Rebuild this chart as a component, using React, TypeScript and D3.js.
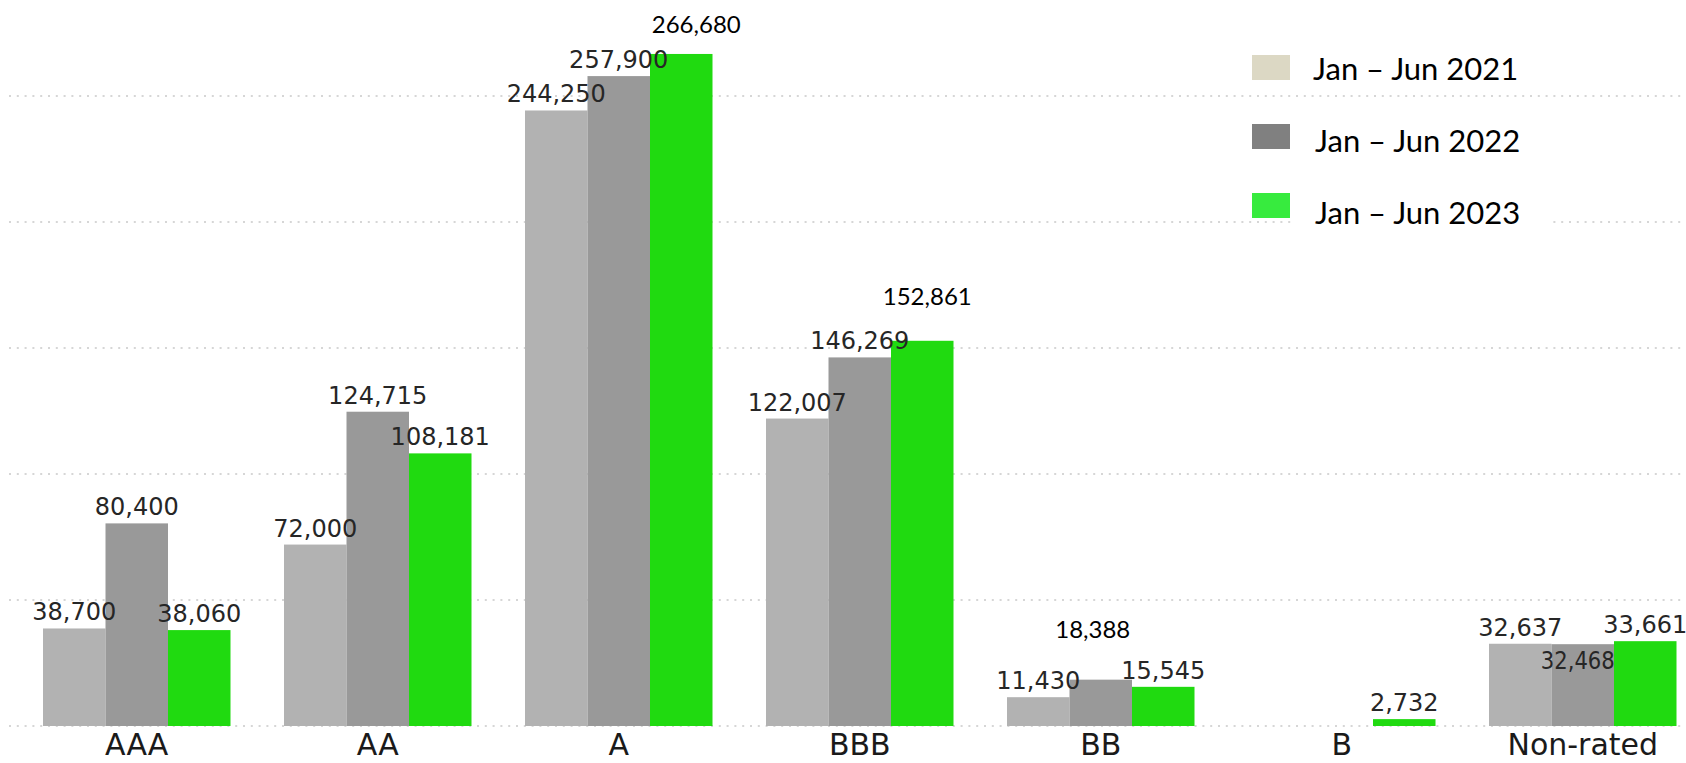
import React from "react";
import * as d3 from "d3";

const categories = ["AAA", "AA", "A", "BBB", "BB", "B", "Non-rated"];
const seriesNames = ["Jan – Jun 2021", "Jan – Jun 2022", "Jan – Jun 2023"];
const values2021: (number | null)[] = [38700, 72000, 244250, 122007, 11430, null, 32637];
const values2022: (number | null)[] = [80400, 124715, 257900, 146269, 18388, null, 32468];
const values2023: (number | null)[] = [38060, 108181, 266680, 152861, 15545, 2732, 33661];
const gridTicks = [0, 50000, 100000, 150000, 200000, 250000];

const W = 1686;
const H = 763;
const barColors = ["#b2b2b2", "#999999", "#20da10"];
const legendColors = ["#dcd8c4", "#808080", "#37eb3e"];

// label placement tweaks (style, not data)
const labelTweaks: Record<string, { dx: number; dy: number; kind: string }> = {
  "A|2": { dx: 15, dy: -21, kind: "black" },
  "BBB|2": { dx: 5, dy: -36, kind: "black" },
  "BB|1": { dx: -8, dy: -42, kind: "black" },
  "Non-rated|1": { dx: -5, dy: 25, kind: "inside" },
};

export default function App() {
  const series = [values2021, values2022, values2023];
  const x0 = d3.scaleBand<string>().domain(categories).range([43, 1676.5]).paddingInner(0.222).paddingOuter(0);
  const x1 = d3.scaleBand<number>().domain([0, 1, 2]).range([0, x0.bandwidth()]).padding(0);
  const y = d3.scaleLinear().domain([0, 250000]).range([726, 96]);
  const fmt = d3.format(",");

  return (
    <svg width={W} height={H} style={{ position: "absolute", left: 0, top: 0, background: "#fff" }}>
      <rect x={0} y={0} width={W} height={H} fill="#fff" />
      {gridTicks.map((t) => (
        <line key={t} x1={9} x2={W} y1={y(t)} y2={y(t)} stroke="#d6d6d6" strokeWidth={2} strokeDasharray="2 5.8" />
      ))}
      {/* legend backgrounds hiding gridlines */}
      {seriesNames.map((_, i) => (
        <rect key={"lb" + i} x={1291} y={48 + i * 71} width={i === 2 ? 260 : 282} height={42} fill="#fff" />
      ))}
      {categories.map((c, ci) => (
        <g key={c} transform={`translate(${x0(c)},0)`}>
          {series.map((s, si) => {
            const v = s[ci];
            if (v == null) return null;
            return (
              <rect key={si} x={x1(si)} y={y(v)} width={x1.bandwidth()} height={y(0) - y(v)} fill={barColors[si]} />
            );
          })}
        </g>
      ))}
      {categories.map((c, ci) =>
        series.map((s, si) => {
          const v = s[ci];
          if (v == null) return null;
          const tw = labelTweaks[c + "|" + si];
          const cx = (x0(c) as number) + (x1(si) as number) + x1.bandwidth() / 2 + (tw ? tw.dx : 0);
          const cy = y(v) + (tw ? tw.dy : -8);
          const kind = tw ? tw.kind : "grey";
          if (kind === "black") {
            return (
              <text key={c + si} x={cx} y={cy} textAnchor="middle" fontFamily="Lato" fontSize={24} fill="#000">
                {fmt(v)}
              </text>
            );
          }
          if (kind === "inside") {
            return (
              <text key={c + si} x={cx} y={cy} textAnchor="middle" fontFamily="DejaVu Sans" fontSize={24} fill="#262626" textLength={74} lengthAdjust="spacingAndGlyphs">
                {fmt(v)}
              </text>
            );
          }
          return (
            <text key={c + si} x={cx} y={cy} textAnchor="middle" fontFamily="DejaVu Sans" fontSize={24} fill="#262626">
              {fmt(v)}
            </text>
          );
        })
      )}
      {categories.map((c) => (
        <text key={"cat" + c} x={(x0(c) as number) + x0.bandwidth() / 2} y={755} textAnchor="middle" fontFamily="DejaVu Sans" fontSize={30} fill="#1a1a1a">
          {c}
        </text>
      ))}
      {seriesNames.map((n, i) => (
        <g key={n}>
          <rect x={1252} y={55 + i * 69} width={38} height={25} fill={legendColors[i]} />
          <text x={1313 + (i > 0 ? 2 : 0)} y={80 + i * 72} fontFamily="Lato" fontSize={31} fill="#000">
            {n}
          </text>
        </g>
      ))}
    </svg>
  );
}
